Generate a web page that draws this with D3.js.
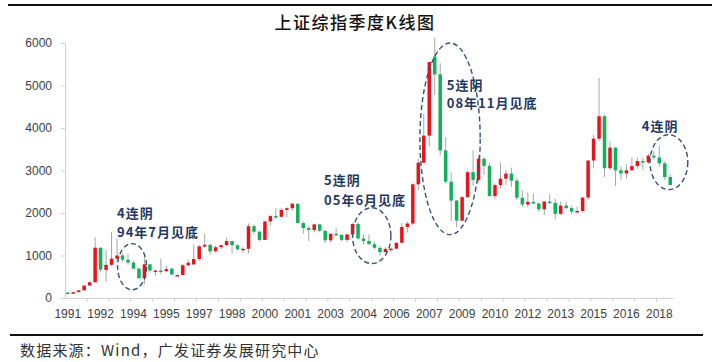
<!DOCTYPE html>
<html>
<head>
<meta charset="utf-8">
<script src="https://cdn.jsdelivr.net/npm/d3@7"></script>
<style>
  body { margin: 0; background: #fff; }
  svg { display: block; }
</style>
</head>
<body>
<svg id="chart" width="716" height="362"></svg>
<script>
// quarterly candles, Shanghai Composite 1991Q1 - 2018Q3
const quarters = [
  "1991Q1","1991Q2","1991Q3","1991Q4","1992Q1","1992Q2","1992Q3","1992Q4",
  "1993Q1","1993Q2","1993Q3","1993Q4","1994Q1","1994Q2","1994Q3","1994Q4",
  "1995Q1","1995Q2","1995Q3","1995Q4","1996Q1","1996Q2","1996Q3","1996Q4",
  "1997Q1","1997Q2","1997Q3","1997Q4","1998Q1","1998Q2","1998Q3","1998Q4",
  "1999Q1","1999Q2","1999Q3","1999Q4","2000Q1","2000Q2","2000Q3","2000Q4",
  "2001Q1","2001Q2","2001Q3","2001Q4","2002Q1","2002Q2","2002Q3","2002Q4",
  "2003Q1","2003Q2","2003Q3","2003Q4","2004Q1","2004Q2","2004Q3","2004Q4",
  "2005Q1","2005Q2","2005Q3","2005Q4","2006Q1","2006Q2","2006Q3","2006Q4",
  "2007Q1","2007Q2","2007Q3","2007Q4","2008Q1","2008Q2","2008Q3","2008Q4",
  "2009Q1","2009Q2","2009Q3","2009Q4","2010Q1","2010Q2","2010Q3","2010Q4",
  "2011Q1","2011Q2","2011Q3","2011Q4","2012Q1","2012Q2","2012Q3","2012Q4",
  "2013Q1","2013Q2","2013Q3","2013Q4","2014Q1","2014Q2","2014Q3","2014Q4",
  "2015Q1","2015Q2","2015Q3","2015Q4","2016Q1","2016Q2","2016Q3","2016Q4",
  "2017Q1","2017Q2","2017Q3","2017Q4","2018Q1","2018Q2","2018Q3"
];

const open = [
  127, 120, 137, 181,   293, 370, 1180, 660,   780, 925, 1000, 900,   834, 690, 467, 792,
  637, 647, 630, 690,   520, 540, 770, 790,    917, 1210, 1250, 1100, 1194, 1243, 1339, 1242,
  1147, 1158, 1690, 1560, 1367, 1800, 1928, 1910, 2073, 2112, 2218, 1764, 1646, 1600, 1732, 1581,
  1357, 1510, 1487, 1367, 1497, 1742, 1400, 1342, 1266, 1181, 1080, 1155, 1161, 1299, 1672, 1752,
  2675, 3183, 3821, 5683, 5265, 3472, 2736, 2293, 1821, 2373, 2959, 2779, 3277, 3109, 2398, 2656,
  2808, 2928, 2762, 2359, 2199, 2263, 2225, 2086, 2269, 2237, 1979, 2175, 2116, 2033, 2048, 2364,
  3235, 3748, 4277, 3053, 3539, 3004, 2930, 3005, 3104, 3223, 3192, 3349, 3307, 3169, 2847
];
const high = [
  135, 137, 182, 293,   382, 1429, 1200, 1130, 1558, 1392, 1050, 1044, 880, 710, 1052, 800,
  660, 926, 760, 720,   560, 800, 900, 1258,   1250, 1510, 1280, 1230, 1250, 1422, 1340, 1260,
  1200, 1756, 1730, 1580, 1820, 1950, 2114, 2125, 2135, 2245, 2220, 1800, 1700, 1748, 1745, 1600,
  1530, 1649, 1500, 1500, 1760, 1783, 1490, 1497, 1328, 1225, 1200, 1195, 1306, 1757, 1800, 2698,
  3274, 4335, 5558, 6124, 5522, 3786, 2953, 2303, 2402, 2997, 3478, 3361, 3306, 3181, 2698, 3186,
  3012, 3067, 2826, 2536, 2478, 2461, 2245, 2289, 2444, 2334, 2270, 2260, 2177, 2146, 2370, 3239,
  3835, 5178, 4317, 3684, 3539, 3099, 3140, 3301, 3301, 3295, 3391, 3451, 3587, 3220, 2915
];
const low = [
  116, 105, 135, 180,   292, 370, 600, 387,    750, 830, 850, 780,    690, 440, 326, 600,
  524, 560, 600, 540,   512, 530, 740, 780,    870, 1180, 1025, 1070, 1150, 1220, 1043, 1120,
  1064, 1050, 1500, 1341, 1361, 1700, 1860, 1900, 1900, 2040, 1760, 1514, 1339, 1540, 1560, 1300,
  1311, 1460, 1340, 1307, 1490, 1380, 1260, 1259, 1150, 998, 1070, 1067, 1150, 1290, 1541, 1710,
  2541, 3183, 3563, 4778, 3357, 2693, 1802, 1664, 1814, 2355, 2639, 2712, 2890, 2382, 2319, 2573,
  2661, 2610, 2307, 2134, 2132, 2212, 2029, 1949, 2205, 1849, 1950, 2089, 1974, 1991, 2010, 2301,
  3050, 3685, 2850, 3011, 2638, 2780, 2808, 3000, 3044, 3016, 3150, 3254, 3091, 2782, 2644
];
const close = [
  120, 137, 181, 293,   370, 1183, 666, 780,   925, 1000, 902, 834,   690, 467, 792, 648,
  647, 630, 680, 555,   540, 770, 830, 917,    1215, 1250, 1097, 1194, 1243, 1339, 1242, 1147,
  1158, 1690, 1560, 1367, 1800, 1928, 1910, 2073, 2112, 2218, 1764, 1646, 1600, 1732, 1581, 1357,
  1510, 1487, 1367, 1497, 1742, 1400, 1342, 1266, 1181, 1080, 1155, 1161, 1299, 1672, 1752, 2675,
  3183, 3821, 5552, 5261, 3472, 2736, 2293, 1821, 2373, 2959, 2779, 3277, 3109, 2398, 2656, 2808,
  2928, 2762, 2359, 2199, 2263, 2225, 2086, 2269, 2237, 1979, 2175, 2116, 2033, 2048, 2364, 3235,
  3748, 4277, 3053, 3539, 3004, 2930, 3005, 3104, 3223, 3192, 3349, 3307, 3169, 2847, 2660
];

// axis labels sit on every 6th quarter, tick marks every 4th boundary
const labelQuarters = ["1991Q1","1992Q3","1994Q1","1995Q3","1997Q1","1998Q3","2000Q1","2001Q3",
  "2003Q1","2004Q3","2006Q1","2007Q3","2009Q1","2010Q3","2012Q1","2013Q3","2015Q1","2016Q3","2018Q1"];
const xLabels = ["1991","1992","1994","1995","1997","1998","2000","2001","2003","2004",
  "2006","2007","2009","2010","2012","2013","2015","2016","2018"];
const yTicks = [0, 1000, 2000, 3000, 4000, 5000, 6000];

// dashed rings: index span (in quarters) and value span
const rings = [
  { i0: 9.6,  i1: 14.9,  v0: 195,  v1: 1280 },
  { i0: 52.5, i1: 59.5,  v0: 810,  v1: 2125 },
  { i0: 64.8, i1: 75.8,  v0: 1490, v1: 6000 },
  { i0: 106.8, i1: 113.7, v0: 2550, v1: 3840 }
];
const notes = [
  { i: 9.5,  v: 1880, text: "4连阴" },
  { i: 9.5,  v: 1440, text: "94年7月见底" },
  { i: 47.3, v: 2650, text: "5连阴" },
  { i: 47.3, v: 2200, text: "05年6月见底" },
  { i: 69.7, v: 4900, text: "5连阴" },
  { i: 69.7, v: 4480, text: "08年11月见底" },
  { i: 105.3, v: 3930, text: "4连阴" }
];

const up = "#e8141c", down = "#13b05a", wick = "#a6a6a6", navy = "#1f3864";

const svg = d3.select("#chart");
const mLeft = 65, mRight = 673, mTop = 43, mBottom = 298;

const x = d3.scaleBand()
  .domain(quarters)
  .range([mLeft, mRight])
  .paddingInner(0.36)
  .paddingOuter(0.18);
const xi = d3.scaleLinear().domain([0, quarters.length]).range([mLeft, mRight]);
const y = d3.scaleLinear().domain([0, 6000]).range([mBottom, mTop]);

// frame lines
svg.append("line").attr("x1", 8).attr("x2", 712).attr("y1", 5).attr("y2", 5)
  .attr("stroke", "#111").attr("stroke-width", 2);
svg.append("line").attr("x1", 10).attr("x2", 703).attr("y1", 335).attr("y2", 335)
  .attr("stroke", "#111").attr("stroke-width", 2);

svg.append("text")
  .attr("x", 355).attr("y", 29)
  .attr("text-anchor", "middle")
  .attr("font-family", "'Noto Sans CJK SC', sans-serif")
  .attr("font-size", 17)
  .attr("font-weight", 500)
  .attr("letter-spacing", 1.5)
  .attr("fill", "#111")
  .text("上证综指季度K线图");

// y axis
svg.append("g")
  .attr("transform", `translate(${mLeft},0)`)
  .call(d3.axisLeft(y).tickValues(yTicks).tickSize(4).tickPadding(9).tickFormat(d3.format("d")))
  .call(g => g.selectAll("path, line").attr("stroke", "#d0d0d0"))
  .call(g => g.selectAll("text")
    .attr("font-family", "'Liberation Sans', Arial, sans-serif")
    .attr("font-size", 12).attr("fill", "#404040"));

// x axis: labels only, tick marks drawn at quarter boundaries
const labelText = new Map(labelQuarters.map((q, k) => [q, xLabels[k]]));
svg.append("g")
  .attr("transform", `translate(0,${mBottom})`)
  .call(d3.axisBottom(x).tickValues(labelQuarters).tickSize(0).tickPadding(11)
    .tickFormat(q => labelText.get(q)))
  .call(g => g.select(".domain").attr("stroke", "#d0d0d0"))
  .call(g => g.selectAll("text")
    .attr("font-family", "'Liberation Sans', Arial, sans-serif")
    .attr("font-size", 12).attr("fill", "#404040"));

svg.append("g")
  .selectAll("line")
  .data(d3.range(4, quarters.length, 4))
  .join("line")
  .attr("x1", d => xi(d)).attr("x2", d => xi(d))
  .attr("y1", mBottom).attr("y2", mBottom + 4)
  .attr("stroke", "#d0d0d0");

// candles
const candles = svg.append("g")
  .selectAll("g")
  .data(quarters.map((q, i) => ({ q, o: open[i], h: high[i], l: low[i], c: close[i] })))
  .join("g");

candles.append("line")
  .attr("x1", d => x(d.q) + x.bandwidth() / 2)
  .attr("x2", d => x(d.q) + x.bandwidth() / 2)
  .attr("y1", d => y(d.h))
  .attr("y2", d => y(d.l))
  .attr("stroke", wick)
  .attr("stroke-width", 1);

candles.append("rect")
  .attr("x", d => x(d.q))
  .attr("width", x.bandwidth())
  .attr("y", d => y(Math.max(d.o, d.c)))
  .attr("height", d => Math.max(1.5, Math.abs(y(d.o) - y(d.c))))
  .attr("fill", d => d.c >= d.o ? up : down);

// dashed rings round the losing streaks
svg.append("g")
  .selectAll("ellipse")
  .data(rings)
  .join("ellipse")
  .attr("cx", d => (xi(d.i0) + xi(d.i1)) / 2)
  .attr("cy", d => (y(d.v0) + y(d.v1)) / 2)
  .attr("rx", d => (xi(d.i1) - xi(d.i0)) / 2)
  .attr("ry", d => (y(d.v0) - y(d.v1)) / 2)
  .attr("fill", "none")
  .attr("stroke", "#34507e")
  .attr("stroke-width", 1.4)
  .attr("stroke-dasharray", "5,3");

svg.append("g")
  .selectAll("text")
  .data(notes)
  .join("text")
  .attr("x", d => xi(d.i))
  .attr("y", d => y(d.v))
  .attr("font-family", "'Noto Sans CJK SC', sans-serif")
  .attr("font-size", 13)
  .attr("font-weight", "bold")
  .attr("letter-spacing", 1)
  .attr("fill", navy)
  .text(d => d.text);

svg.append("text")
  .attr("x", 20).attr("y", 356)
  .attr("font-family", "'Noto Sans CJK SC', sans-serif")
  .attr("font-size", 15)
  .attr("letter-spacing", 1.2)
  .attr("fill", "#333")
  .text("数据来源：Wind，广发证券发展研究中心");
</script>
</body>
</html>
